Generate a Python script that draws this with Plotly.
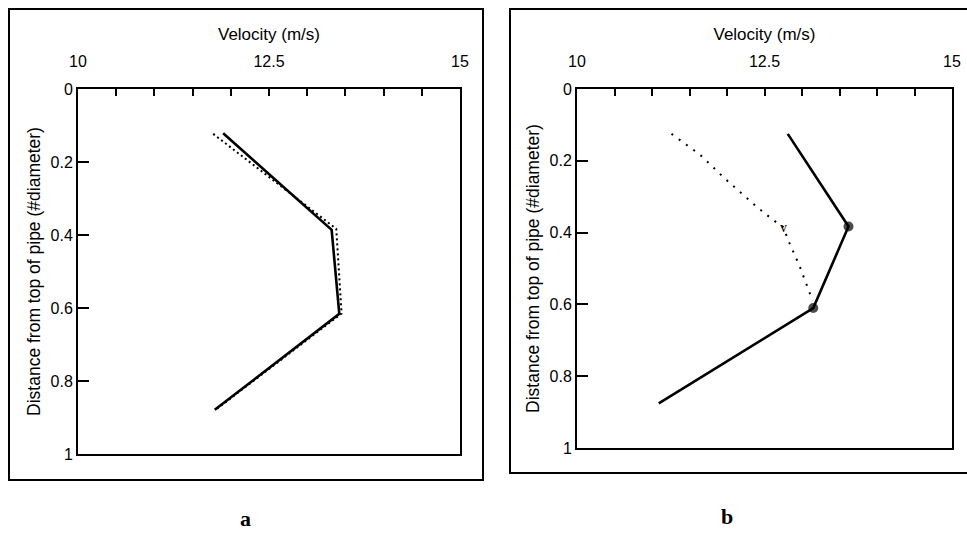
import plotly.graph_objects as go

W, H = 967, 552

# ---- data (velocity m/s, depth #diameter) ----
a_solid_v = [11.90, 13.32, 13.42, 11.79]
a_solid_d = [0.121, 0.386, 0.616, 0.879]
a_dot_v = [11.77, 13.38, 13.45, 11.80]
a_dot_d = [0.123, 0.383, 0.615, 0.879]

b_solid_v = [12.81, 13.62, 13.15, 11.09]
b_solid_d = [0.125, 0.383, 0.610, 0.876]
b_marker_size = [0, 10, 10, 0]
b_dot_v = [11.26, 11.64, 11.99, 12.39, 12.61, 12.75, 12.83, 12.97, 13.10, 13.14]
b_dot_d = [0.125, 0.183, 0.253, 0.327, 0.364, 0.385, 0.428, 0.494, 0.567, 0.590]

x_tickvals = [10, 12.5, 15]
x_ticktext = ["10", "12.5", "15"]
y_tickvals = [0, 0.2, 0.4, 0.6, 0.8, 1.0]
y_ticktext = ["0", "0.2", "0.4", "0.6", "0.8", "1"]
x_title = "Velocity (m/s)"
y_title = "Distance from top of pipe (#diameter)"
panel_labels = ["a", "b"]

FONT = "Liberation Sans"


def px_x(p):
    return p / W


def px_y(p):
    return 1 - p / H


fig = go.Figure()

fig.add_trace(go.Scatter(x=a_dot_v, y=a_dot_d, mode="lines",
                         line=dict(color="black", width=2, dash="2px,3px"),
                         xaxis="x", yaxis="y", showlegend=False))
fig.add_trace(go.Scatter(x=a_solid_v, y=a_solid_d, mode="lines",
                         line=dict(color="black", width=2.6),
                         xaxis="x", yaxis="y", showlegend=False))
fig.add_trace(go.Scatter(x=b_dot_v, y=b_dot_d, mode="lines",
                         line=dict(color="black", width=2, dash="2px,7px"),
                         xaxis="x2", yaxis="y2", showlegend=False))
fig.add_trace(go.Scatter(x=b_solid_v, y=b_solid_d, mode="lines+markers",
                         line=dict(color="black", width=2.6),
                         marker=dict(color="black", size=b_marker_size,
                                     line=dict(width=0)),
                         xaxis="x2", yaxis="y2", showlegend=False))


def xaxis_cfg(domain, anchor):
    return dict(domain=domain, anchor=anchor, range=[10, 15], side="top",
                tickvals=x_tickvals, ticktext=x_ticktext,
                ticks="inside", ticklen=7, tickwidth=2, tickcolor="black",
                minor=dict(tickmode="linear", tick0=10, dtick=0.5, ticks="inside",
                           ticklen=7, tickwidth=2, tickcolor="black"),
                showline=True, mirror=True, linecolor="black", linewidth=2,
                showgrid=False, zeroline=False, ticklabelstandoff=14,
                automargin=False,
                tickfont=dict(family=FONT, size=16, color="black"),
                title=dict(text=x_title, standoff=8,
                           font=dict(family=FONT, size=17, color="black")))


def yaxis_cfg(domain, anchor):
    return dict(domain=domain, anchor=anchor, range=[1, 0],
                tickvals=y_tickvals, ticktext=y_ticktext,
                ticks="inside", ticklen=11, tickwidth=2, tickcolor="black",
                showline=True, mirror=True, linecolor="black", linewidth=2,
                showgrid=False, zeroline=False, automargin=False,
                tickfont=dict(family=FONT, size=16, color="black"),
                title=dict(text=y_title, standoff=5,
                           font=dict(family=FONT, size=17.5, color="black")))


shapes = [
    dict(type="rect", xref="paper", yref="paper",
         x0=px_x(9), x1=px_x(483), y0=px_y(480), y1=px_y(9),
         line=dict(color="black", width=2)),
    dict(type="rect", xref="paper", yref="paper",
         x0=px_x(510), x1=px_x(975), y0=px_y(473), y1=px_y(9),
         line=dict(color="black", width=2)),
]

annotations = [
    dict(text="v", x=12.75, y=0.386, xref="x2", yref="y2", showarrow=False,
         xanchor="center", yanchor="middle",
         font=dict(family="Liberation Serif", size=14, color="black")),
    dict(text="<b>%s</b>" % panel_labels[0], x=px_x(245), y=px_y(518), xref="paper",
         yref="paper", showarrow=False, xanchor="center", yanchor="middle",
         font=dict(family="Liberation Serif", size=22, color="black")),
    dict(text="<b>%s</b>" % panel_labels[1], x=px_x(727), y=px_y(516), xref="paper",
         yref="paper", showarrow=False, xanchor="center", yanchor="middle",
         font=dict(family="Liberation Serif", size=22, color="black")),
]

fig.update_layout(
    width=W, height=H, autosize=False,
    margin=dict(l=0, r=0, t=0, b=0, pad=0),
    paper_bgcolor="white", plot_bgcolor="white",
    xaxis=xaxis_cfg([px_x(78), px_x(460)], "y"),
    yaxis=yaxis_cfg([px_y(454), px_y(89)], "x"),
    xaxis2=xaxis_cfg([px_x(577), px_x(952)], "y2"),
    yaxis2=yaxis_cfg([px_y(448), px_y(89)], "x2"),
    shapes=shapes, annotations=annotations,
)

fig.write_html(
    "out.html",
    post_script="document.body.style.margin='0';document.body.style.overflow='hidden';",
)
